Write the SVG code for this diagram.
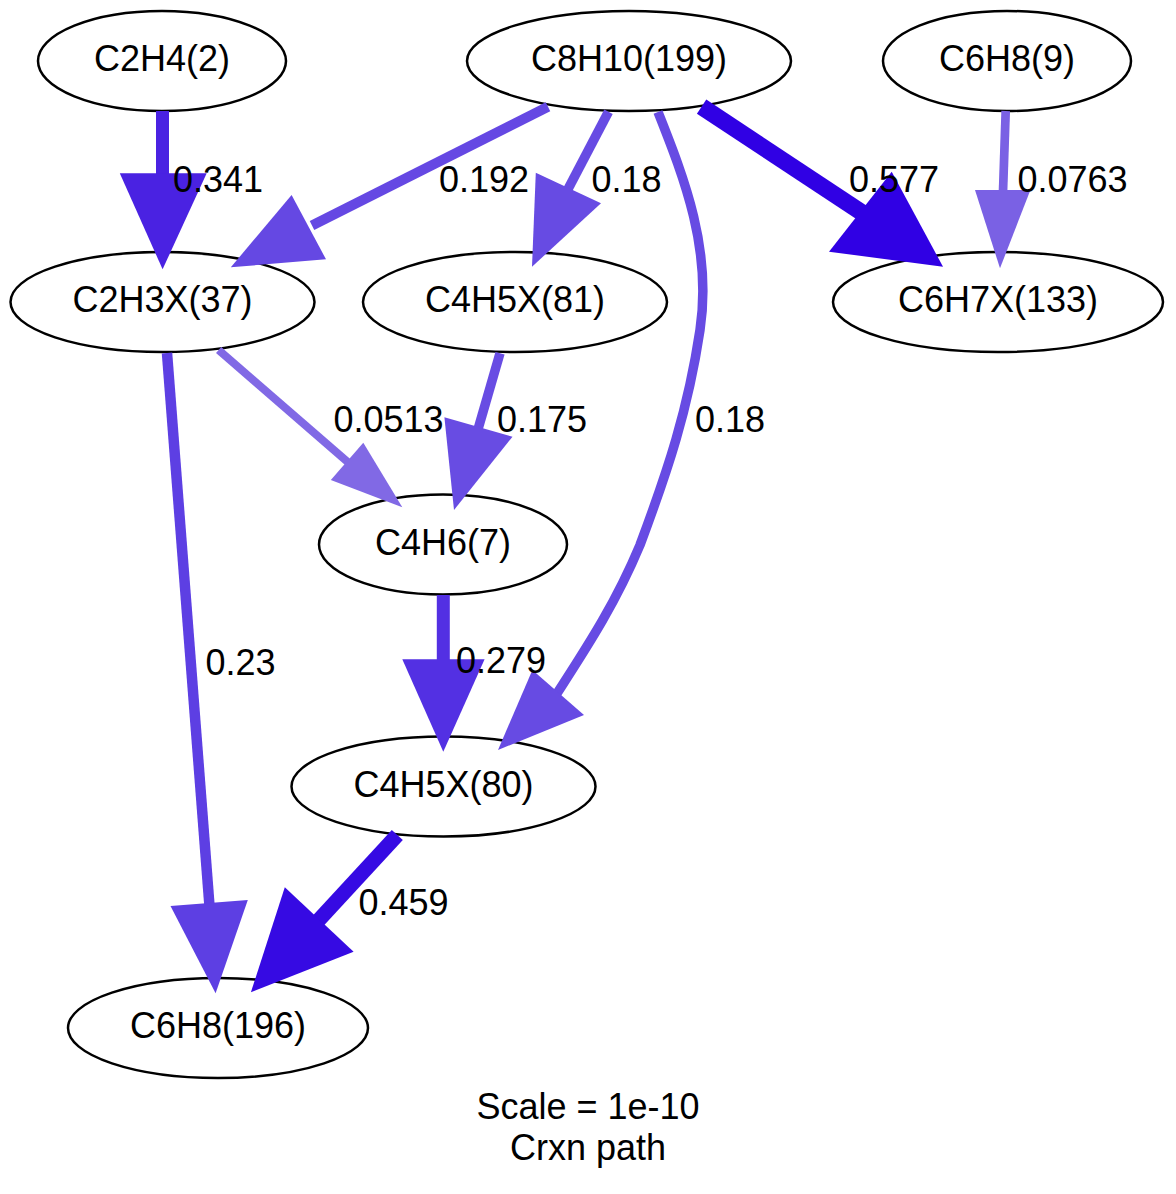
<svg xmlns="http://www.w3.org/2000/svg" width="1176" height="1194" viewBox="0 0 1176 1194">
  <style>
    text { font-family: "Liberation Sans", Arial, Helvetica, sans-serif; font-size: 36px; fill: #000; }
    .node ellipse { fill: #fff; stroke: #000; stroke-width: 2.5; }
    .node text { text-anchor: middle; }
    .lbl { text-anchor: middle; }
    .e path { fill: none; }
    .c577 { stroke: #3000e4; fill: #3000e4; }
    .c459 { stroke: #360ae3; fill: #360ae3; }
    .c341 { stroke: #4a22e2; fill: #4a22e2; }
    .c279 { stroke: #5330e3; fill: #5330e3; }
    .c230 { stroke: #5d3fe3; fill: #5d3fe3; }
    .c192 { stroke: #6548e3; fill: #6548e3; }
    .c180 { stroke: #674be3; fill: #674be3; }
    .c175 { stroke: #684ce3; fill: #684ce3; }
    .c0763 { stroke: #7a61e4; fill: #7a61e4; }
    .c0513 { stroke: #8169e5; fill: #8169e5; }
    .e polygon { stroke: none; }
  </style>

  <rect width="1176" height="1194" fill="#fff"/>

  <!-- species -->
  <g id="node-C2H4-2" class="node">
    <ellipse cx="162" cy="61" rx="124" ry="50"/>
    <text x="162" y="71">C2H4(2)</text>
  </g>
  <g id="node-C8H10-199" class="node">
    <ellipse cx="629" cy="61" rx="162" ry="50"/>
    <text x="629" y="71">C8H10(199)</text>
  </g>
  <g id="node-C6H8-9" class="node">
    <ellipse cx="1007" cy="61" rx="124" ry="50"/>
    <text x="1007" y="71">C6H8(9)</text>
  </g>
  <g id="node-C2H3X-37" class="node">
    <ellipse cx="162.5" cy="302" rx="152" ry="50"/>
    <text x="162.5" y="312">C2H3X(37)</text>
  </g>
  <g id="node-C4H5X-81" class="node">
    <ellipse cx="515" cy="302" rx="152" ry="50"/>
    <text x="515" y="312">C4H5X(81)</text>
  </g>
  <g id="node-C6H7X-133" class="node">
    <ellipse cx="998" cy="302" rx="165" ry="50"/>
    <text x="998" y="312">C6H7X(133)</text>
  </g>
  <g id="node-C4H6-7" class="node">
    <ellipse cx="443" cy="544.5" rx="124" ry="50"/>
    <text x="443" y="554.5">C4H6(7)</text>
  </g>
  <g id="node-C4H5X-80" class="node">
    <ellipse cx="443.5" cy="786.5" rx="152" ry="50"/>
    <text x="443.5" y="796.5">C4H5X(80)</text>
  </g>
  <g id="node-C6H8-196" class="node">
    <ellipse cx="218" cy="1028" rx="150" ry="50"/>
    <text x="218" y="1038">C6H8(196)</text>
  </g>

  <!-- fluxes -->
  <g id="connectors">
    <g class="e">
      <path class="c341" stroke-width="13" d="M162.5,111 L162.5,176"/>
      <polygon class="c341" points="119.8,173.3 206.7,173.3 162.6,269.3"/>
    </g>
    <g class="e">
      <path class="c192" stroke-width="10" d="M548,106.7 L312,225.5"/>
      <polygon class="c192" points="291.6,195 326,259.3 230.8,267.3"/>
    </g>
    <g class="e">
      <path class="c180" stroke-width="9.5" d="M608.5,111.7 L567,191"/>
      <polygon class="c180" points="535.8,172.7 601,203.3 532,266.7"/>
    </g>
    <g class="e">
      <path class="c180" stroke-width="9.5" d="M658,112 C685,180 712,250 700,330 C688,410 668,470 640,545 C615,605 585,650 556,695"/>
      <polygon class="c180" points="532.4,670 584,715 498,750"/>
    </g>
    <g class="e">
      <path class="c577" stroke-width="17" d="M701.6,106.7 L864,214"/>
      <polygon class="c577" points="829,251.7 891.7,171.7 943,266.7"/>
    </g>
    <g class="e">
      <path class="c0763" stroke-width="8.7" d="M1005.7,111 L1003,192"/>
      <polygon class="c0763" points="975,190 1030.4,190 1000,268.3"/>
    </g>
    <g class="e">
      <path class="c230" stroke-width="10.5" d="M167,353 L209.5,906"/>
      <polygon class="c230" points="170.5,906 247.8,900 215.6,993.3"/>
    </g>
    <g class="e">
      <path class="c0513" stroke-width="8" d="M218.6,350 L350,464"/>
      <polygon class="c0513" points="330.8,480 363.3,442.7 402.3,507.3"/>
    </g>
    <g class="e">
      <path class="c175" stroke-width="9.5" d="M500,353.3 L477.5,431"/>
      <polygon class="c175" points="444.4,417.3 512.5,436.7 454,510"/>
    </g>
    <g class="e">
      <path class="c279" stroke-width="13" d="M443.3,595 L443.3,662"/>
      <polygon class="c279" points="402.3,659.3 484.6,659.3 443.3,751.7"/>
    </g>
    <g class="e">
      <path class="c459" stroke-width="15" d="M397.3,835 L317,922"/>
      <polygon class="c459" points="284.8,887.3 353.6,951.7 250.9,992.3"/>
    </g>

    <!-- flux values -->
    <text class="lbl" x="218" y="192">0.341</text>
    <text class="lbl" x="484" y="192">0.192</text>
    <text class="lbl" x="626.5" y="192">0.18</text>
    <text class="lbl" x="894" y="192">0.577</text>
    <text class="lbl" x="1072.5" y="192">0.0763</text>
    <text class="lbl" x="388.5" y="432">0.0513</text>
    <text class="lbl" x="542" y="432">0.175</text>
    <text class="lbl" x="730" y="432">0.18</text>
    <text class="lbl" x="240.5" y="675">0.23</text>
    <text class="lbl" x="501" y="673">0.279</text>
    <text class="lbl" x="403.5" y="915">0.459</text>
  </g>

  <!-- graph caption -->
  <text x="588" y="1119" text-anchor="middle">Scale = 1e-10</text>
  <text x="588" y="1160" text-anchor="middle">Crxn path</text>
</svg>
